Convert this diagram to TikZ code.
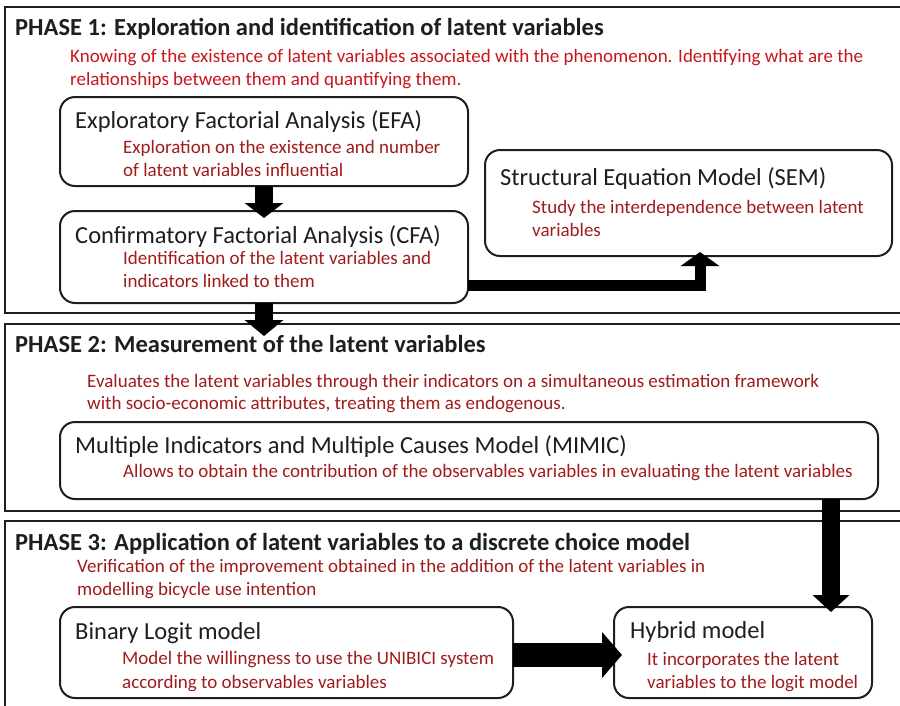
\documentclass[tikz,border=0pt]{standalone}
\usepackage{fontspec}
\setmainfont{Carlito}
\usetikzlibrary{arrows.meta,calc}
\definecolor{bred}{HTML}{C8161D}
\definecolor{dred}{HTML}{A01C1C}
\definecolor{ink}{HTML}{1E1E1E}
\begin{document}
\begin{tikzpicture}[x=1pt,y=-1pt,
  frame/.style={draw=ink, line width=2.4pt, anchor=north west, inner sep=0pt, outer sep=0pt},
  box/.style={draw=ink, line width=2pt, rounded corners=15pt, anchor=north west, inner sep=0pt, outer sep=0pt},
  ttl/.style={anchor=base west, inner sep=0pt, text=ink, font=\bfseries\fontsize{24.5}{28}\selectfont},
  hd/.style={anchor=base west, inner sep=0pt, text=ink, font=\fontsize{24.5}{28}\selectfont},
  rd/.style={anchor=base west, inner sep=0pt, text=dred, font=\fontsize{19}{22}\selectfont},
  brd/.style={rd, text=bred},
  blk/.style={draw=black, line width=#1},
  blk/.default=18pt]
\clip (0,0) rectangle (900,705);
\fill[white] (0,0) rectangle (900,705);

% ---------- frames ----------
\node[frame, minimum width=920pt, minimum height=306pt] (p1) at (5,7) {};
\node[frame, minimum width=920pt, minimum height=187pt] (p2) at (5,324) {};
\node[frame, minimum width=920pt, minimum height=200pt] (p3) at (5,521) {};

% ---------- phase 1 ----------
\node[ttl] (p1t) at (15,35) {PHASE 1: Exploration and identification of latent variables};
\node[brd] (p1a) at (70,62) {Knowing of the existence of latent variables associated with the phenomenon. Identifying what are the};
\node[brd] (p1b) at (70,85) {relationships between them and quantifying them.};

\node[box, minimum width=408pt, minimum height=89pt] (efa) at (60,97) {};
\node[hd] (efat) at (75,128) {Exploratory Factorial Analysis (EFA)};
\node[rd] (efa1) at (123,153) {Exploration on the existence and number};
\node[rd] (efa2) at (123,176) {of latent variables influential};

\node[box, minimum width=408pt, minimum height=92pt] (cfa) at (60,211) {};
\node[hd] (cfat) at (75,243) {Confirmatory Factorial Analysis (CFA)};
\node[rd] (cfa1) at (123,264) {Identification of the latent variables and};
\node[rd] (cfa2) at (123,287) {indicators linked to them};

\node[box, minimum width=407pt, minimum height=106pt] (sem) at (485,150) {};
\node[hd] (semt) at (500,185) {Structural Equation Model (SEM)};
\node[rd] (sem1) at (532,213) {Study the interdependence between latent};
\node[rd] (sem2) at (532,236) {variables};

% ---------- phase 2 ----------
\node[ttl] (p2t) at (15,352) {PHASE 2: Measurement of the latent variables};
\node[rd] (p2a) at (87,387) {Evaluates the latent variables through their indicators on a simultaneous estimation framework};
\node[rd] (p2b) at (87,409) {with socio-economic attributes, treating them as endogenous.};

\node[box, minimum width=818pt, minimum height=77pt] (mimic) at (60,422) {};
\node[hd] (mimict) at (75,453) {Multiple Indicators and Multiple Causes Model (MIMIC)};
\node[rd] (mimic1) at (123,477) {Allows to obtain the contribution of the observables variables in evaluating the latent variables};

% ---------- phase 3 ----------
\node[ttl] (p3t) at (15,550) {PHASE 3: Application of latent variables to a discrete choice model};
\node[rd] (p3a) at (77,572) {Verification of the improvement obtained in the addition of the latent variables in};
\node[rd] (p3b) at (77,595) {modelling bicycle use intention};

\node[box, minimum width=453pt, minimum height=91pt] (bin) at (60,607) {};
\node[hd] (bint) at (75,639) {Binary Logit model};
\node[rd] (bin1) at (122,664) {Model the willingness to use the UNIBICI system};
\node[rd] (bin2) at (122,688) {according to observables variables};

\node[box, minimum width=258pt, minimum height=91pt] (hyb) at (614,607) {};
\node[hd] (hybt) at (630,638) {Hybrid model};
\node[rd] (hyb1) at (647,665) {It incorporates the latent};
\node[rd] (hyb2) at (647,688) {variables to the logit model};

% ---------- arrows ----------
\coordinate (a1s) at (efa.south);
\coordinate (a1e) at ($(a1s |- cfa.north)+(0,7)$);
\draw[blk, -{Triangle[width=38pt,length=15pt]}] (a1s) -- (a1e);

\coordinate (a2s) at (cfa.south);
\coordinate (a2e) at ($(a2s)+(0,33)$);
\draw[blk, -{Triangle[width=38pt,length=16pt]}] (a2s) -- (a2e);

\coordinate (a3s) at ([yshift=18pt]cfa.south east);
\coordinate (a3e) at ([xshift=11.5pt,yshift=4pt]sem.south);
\draw[blk=11pt, -{Triangle[width=38pt,length=14pt]}] (a3s) -| (a3e);

\coordinate (a4s) at ([xshift=-47pt]mimic.south east);
\coordinate (a4e) at ($(a4s |- hyb.north)+(0,5)$);
\draw[blk, -{Triangle[width=36pt,length=17pt]}] (a4s) -- (a4e);

\coordinate (a5s) at ([yshift=-2.5pt]bin.east);
\coordinate (a5e) at ($(a5s -| hyb.west)+(8,0)$);
\draw[blk=24pt, -{Triangle[width=45pt,length=20pt]}] (a5s) -- (a5e);
\end{tikzpicture}
\end{document}
